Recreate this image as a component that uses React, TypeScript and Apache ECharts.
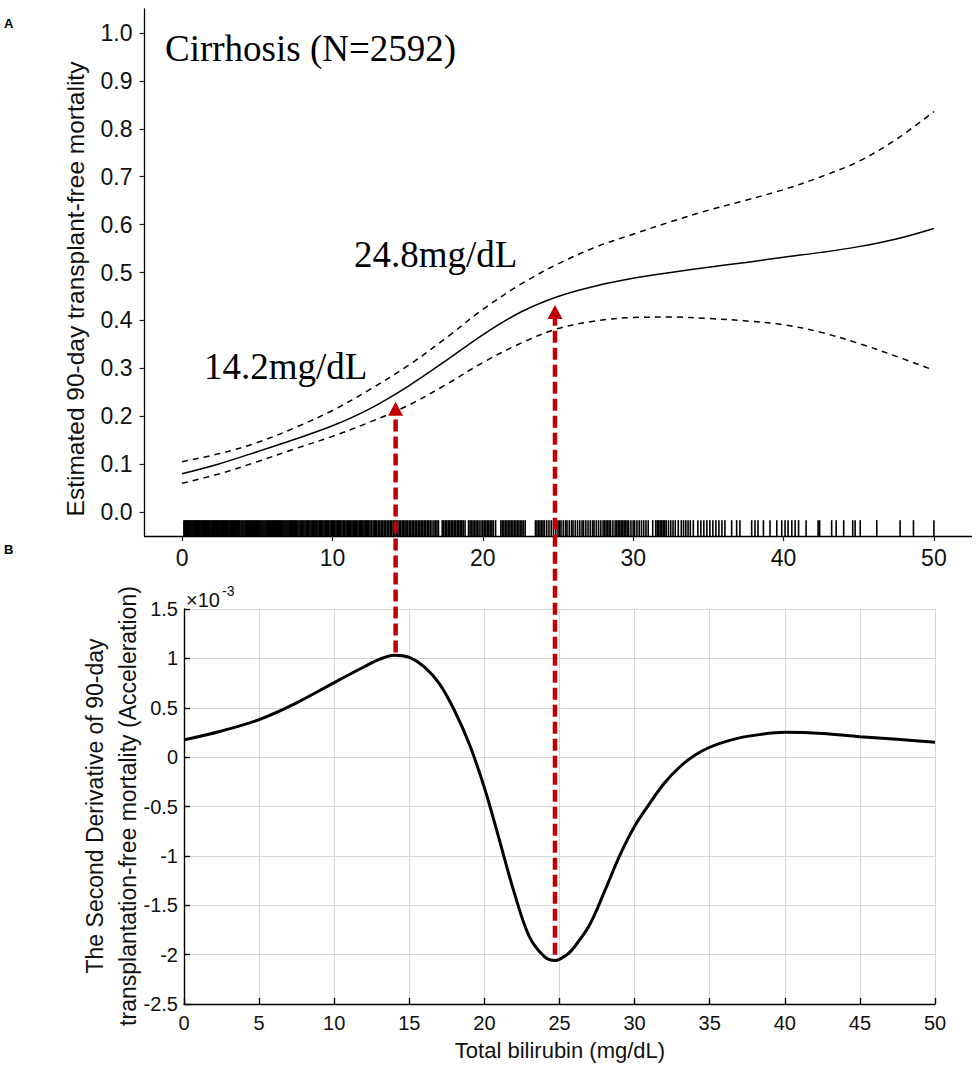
import React, { useEffect, useRef } from "react";
import * as echarts from "echarts";

// ---------- Panel A: estimated 90-day transplant-free mortality ----------
const estX = [0, 2.5, 5, 7.5, 10, 12.5, 15, 17.5, 20, 22.5, 25, 27.5, 30, 32.5, 35, 37.5, 40, 42.5, 45, 47.5, 50];
const estMid = [0.080, 0.101, 0.126, 0.152, 0.180, 0.216, 0.262, 0.315, 0.370, 0.417, 0.450, 0.472, 0.488, 0.500, 0.511, 0.521, 0.532, 0.542, 0.554, 0.570, 0.592];
const estUpper = [0.105, 0.122, 0.145, 0.176, 0.212, 0.256, 0.305, 0.362, 0.423, 0.475, 0.518, 0.553, 0.580, 0.606, 0.630, 0.651, 0.673, 0.700, 0.732, 0.778, 0.836];
const estLower = [0.060, 0.080, 0.105, 0.132, 0.158, 0.188, 0.222, 0.265, 0.312, 0.352, 0.383, 0.399, 0.406, 0.407, 0.404, 0.399, 0.391, 0.375, 0.352, 0.325, 0.296];

const rugBilirubin = [
  0.12, 0.18, 0.24, 0.3, 0.36, 0.42, 0.48, 0.54, 0.6, 0.66, 0.72, 0.78, 0.84, 0.9, 0.96,
  1.02, 1.08, 1.14, 1.2, 1.26, 1.32, 1.38, 1.44, 1.5, 1.56, 1.62, 1.68, 1.74, 1.8, 1.86, 1.92, 1.98,
  2.04, 2.1, 2.16, 2.22, 2.28, 2.34, 2.4, 2.46, 2.52, 2.58, 2.64, 2.7, 2.76, 2.82, 2.88, 2.94,
  3.0, 3.06, 3.12, 3.18, 3.24, 3.3, 3.36, 3.42, 3.48, 3.54, 3.6, 3.66, 3.72, 3.78, 3.84,
  3.92, 3.98, 4.05, 4.12, 4.19, 4.26, 4.33, 4.4, 4.47, 4.54, 4.61, 4.68, 4.75, 4.82, 4.89, 4.96,
  5.03, 5.1, 5.17, 5.24, 5.31, 5.38, 5.45, 5.52, 5.59, 5.66, 5.73, 5.8, 5.87, 5.94, 6.01, 6.08,
  6.14, 6.21, 6.28, 6.35, 6.42, 6.49, 6.56, 6.63, 6.7, 6.77, 6.84, 6.91, 6.98,
  7.05, 7.12, 7.19, 7.26, 7.33, 7.4, 7.47, 7.54, 7.62, 7.7, 7.78, 7.85, 7.94,
  8.02, 8.1, 8.18, 8.26, 8.34, 8.42, 8.5, 8.58, 8.66, 8.74, 8.82, 8.9, 8.96,
  9.04, 9.12, 9.2, 9.28, 9.36, 9.44, 9.52, 9.6, 9.68, 9.76, 9.84, 9.92,
  10.0, 10.08, 10.16, 10.24, 10.32, 10.4, 10.48, 10.56, 10.64, 10.74, 10.82, 10.9, 10.98,
  11.06, 11.14, 11.22, 11.3, 11.38, 11.46, 11.54, 11.62, 11.7, 11.78, 11.86, 11.94,
  12.02, 12.1, 12.18, 12.26, 12.34, 12.42, 12.5, 12.6, 12.7, 12.78, 12.86, 12.94,
  13.04, 13.14, 13.24, 13.34, 13.44, 13.54, 13.64, 13.74, 13.84, 13.94,
  14.04, 14.14, 14.24, 14.34, 14.44, 14.54, 14.64, 14.74, 14.82, 14.9,
  15.0, 15.1, 15.2, 15.3, 15.4, 15.5, 15.6, 15.7, 15.8, 15.9,
  16.0, 16.1, 16.2, 16.3, 16.4, 16.5, 16.62, 16.75, 16.85, 16.95,
  17.05, 17.3, 17.4, 17.5, 17.6, 17.7, 17.8, 17.9, 18.0,
  18.1, 18.2, 18.3, 18.4, 18.5, 18.6, 18.7, 18.82, 19.05,
  19.15, 19.25, 19.35, 19.45, 19.55, 19.65, 19.75, 19.88, 20.0,
  20.1, 20.2, 20.3, 20.4, 20.5, 20.6, 20.7, 20.85, 21.2,
  21.3, 21.4, 21.5, 21.6, 21.7, 21.8, 21.9, 22.0, 22.1,
  22.2, 22.3, 22.4, 22.5, 22.6, 22.7, 22.82, 23.5, 23.6,
  23.7, 23.8, 23.9, 24.0, 24.1, 24.25, 24.4, 24.55, 24.7, 24.85, 25.0,
  25.1, 25.2, 25.35, 25.5, 25.6, 25.75, 25.9, 26.0, 26.15, 26.3, 26.45, 26.6, 26.7, 26.85,
  27.0, 27.15, 27.3, 27.4, 27.55, 27.7, 27.85, 28.0, 28.1, 28.2, 28.3, 28.4, 28.5, 28.65, 28.8, 28.9,
  29.0, 29.1, 29.2, 29.3, 29.4, 29.5, 29.6, 29.7, 29.85, 30.0,
  30.1, 30.25, 30.4, 30.55, 30.7, 30.85, 31.0, 31.3, 31.5, 31.6, 31.7, 31.8, 31.9, 32.0, 32.1, 32.2,
  32.35, 32.5, 32.65, 32.8, 33.0, 33.2, 33.35, 33.5, 33.65, 33.8, 34.0, 34.3, 34.5, 34.7, 34.9,
  35.1, 35.3, 35.5, 35.7, 35.9, 36.1,
  36.55, 36.88, 37.1, 37.88, 38.1, 38.3, 38.66, 39.1, 39.55, 39.88, 40.1, 40.3, 40.55, 40.77, 41.0,
  41.5, 42.3, 42.4, 43.2, 43.5, 44.0, 44.6, 44.76, 45.1, 46.2, 47.75, 48.64, 50.0,
];

const topXTicks = [0, 10, 20, 30, 40, 50];
const topYTicks = [0, 0.1, 0.2, 0.3, 0.4, 0.5, 0.6, 0.7, 0.8, 0.9, 1.0];

// ---------- Panel B: second derivative (x10^-3) ----------
const accelX = [0, 2.5, 5, 7.5, 10, 12, 13, 14, 15, 16, 17, 18, 19, 20, 21, 22, 23, 24, 24.7, 25.5, 26, 27, 28, 29, 30, 31, 32, 33, 34, 35, 36, 37.5, 40, 42.5, 45, 47.5, 50];
const accelY = [0.175, 0.265, 0.38, 0.55, 0.755, 0.915, 0.99, 1.032, 1.01, 0.915, 0.745, 0.475, 0.13, -0.31, -0.84, -1.38, -1.82, -2.02, -2.06, -2.0, -1.92, -1.70, -1.36, -1.0, -0.70, -0.47, -0.26, -0.10, 0.02, 0.10, 0.155, 0.21, 0.251, 0.24, 0.207, 0.18, 0.15];

// ---------- cut points with arrows ----------
const cutPoints = [14.2, 24.8];
const cutLabels = ["14.2mg/dL", "24.8mg/dL"];
const arrowTipMortality = [0.23, 0.432];
const arrowStartAccel = [1.06, -2.0];

const SANS = '"Liberation Sans", Arial, sans-serif';
const SERIF = '"Liberation Serif", "Times New Roman", serif';
const RED = "#C00000";

export default function App() {
  const ref = useRef<HTMLDivElement>(null);

  useEffect(() => {
    if (!ref.current) return;
    const chart = echarts.init(ref.current, null, { renderer: "svg" });

    const option: any = {
      animation: false,
      backgroundColor: "#fff",
      grid: [
        { left: 144.5, top: 9, width: 827, height: 527 },
        { left: 184, top: 609, width: 751, height: 395 },
      ],
      xAxis: [
        {
          type: "value",
          gridIndex: 0,
          min: -2.5,
          max: 52.5,
          axisLine: { show: true, onZero: false, lineStyle: { color: "#000", width: 1.3 } },
          axisTick: { show: true, length: 5, customValues: topXTicks, lineStyle: { color: "#222", width: 1.2 } },
          axisLabel: {
            customValues: topXTicks,
            fontSize: 23,
            fontFamily: SANS,
            color: "#111",
            margin: 10,
          },
          splitLine: { show: false },
        },
        {
          type: "value",
          gridIndex: 1,
          min: 0,
          max: 50,
          interval: 5,
          axisLine: { show: true, onZero: false, lineStyle: { color: "#000", width: 1.4 } },
          axisTick: { show: true, inside: true, length: 6, lineStyle: { color: "#000", width: 1.4 } },
          axisLabel: { fontSize: 20, fontFamily: SANS, color: "#111", margin: 9 },
          splitLine: { show: true, lineStyle: { color: "#d6d6d6", width: 1 } },
        },
      ],
      yAxis: [
        {
          type: "value",
          gridIndex: 0,
          min: -0.05,
          max: 1.05,
          axisLine: { show: true, onZero: false, lineStyle: { color: "#000", width: 1.3 } },
          axisTick: { show: true, length: 5, customValues: topYTicks, lineStyle: { color: "#222", width: 1.2 } },
          axisLabel: {
            customValues: topYTicks,
            formatter: (v: number) => v.toFixed(1),
            fontSize: 23,
            fontFamily: SANS,
            color: "#111",
            margin: 12,
          },
          splitLine: { show: false },
        },
        {
          type: "value",
          gridIndex: 1,
          min: -2.5,
          max: 1.5,
          interval: 0.5,
          axisLine: { show: true, onZero: false, lineStyle: { color: "#000", width: 1.4 } },
          axisTick: { show: true, inside: true, length: 6, lineStyle: { color: "#000", width: 1.4 } },
          axisLabel: {
            formatter: (v: number) => String(Math.round(v * 10) / 10),
            fontSize: 20,
            fontFamily: SANS,
            color: "#111",
            margin: 6,
          },
          splitLine: { show: true, lineStyle: { color: "#d6d6d6", width: 1 } },
        },
      ],
      series: [
        {
          type: "custom",
          xAxisIndex: 0,
          yAxisIndex: 0,
          data: rugBilirubin.map((v) => [v, -0.03]),
          encode: { x: 0, y: 1 },
          renderItem: (params: any, api: any) => {
            const x = api.value(0);
            const a = api.coord([x, -0.017]);
            const b = api.coord([x, -0.05]);
            return {
              type: "line",
              shape: { x1: a[0], y1: a[1], x2: b[0], y2: b[1] },
              style: { stroke: "#000", lineWidth: 1.6 },
            };
          },
          silent: true,
        },
        {
          type: "line",
          xAxisIndex: 0,
          yAxisIndex: 0,
          data: estX.map((x, i) => [x, estUpper[i]]),
          smooth: 0.35,
          showSymbol: false,
          lineStyle: { color: "#000", width: 1.5, type: [6, 5] },
        },
        {
          type: "line",
          xAxisIndex: 0,
          yAxisIndex: 0,
          data: estX.map((x, i) => [x, estLower[i]]),
          smooth: 0.35,
          showSymbol: false,
          lineStyle: { color: "#000", width: 1.5, type: [6, 5] },
        },
        {
          type: "line",
          xAxisIndex: 0,
          yAxisIndex: 0,
          data: estX.map((x, i) => [x, estMid[i]]),
          smooth: 0.35,
          showSymbol: false,
          lineStyle: { color: "#000", width: 1.5 },
        },
        {
          type: "line",
          xAxisIndex: 1,
          yAxisIndex: 1,
          data: accelX.map((x, i) => [x, accelY[i]]),
          smooth: 0.35,
          showSymbol: false,
          lineStyle: { color: "#000", width: 3 },
        },
      ],
    };

    chart.setOption(option);

    const elements: any[] = [
      { type: "text", x: 4, y: 23, style: { text: "A", fontSize: 13, fontWeight: "bold", fontFamily: SANS, fill: "#000", align: "left", verticalAlign: "middle" } },
      { type: "text", x: 4, y: 549, style: { text: "B", fontSize: 13, fontWeight: "bold", fontFamily: SANS, fill: "#000", align: "left", verticalAlign: "middle" } },
      { type: "text", x: 165, y: 48, style: { text: "Cirrhosis (N=2592)", fontSize: 37, fontFamily: SERIF, fill: "#000", align: "left", verticalAlign: "middle" } },
      { type: "text", x: 354, y: 254, style: { text: cutLabels[1], fontSize: 37, fontFamily: SERIF, fill: "#000", align: "left", verticalAlign: "middle" } },
      { type: "text", x: 204, y: 366, style: { text: cutLabels[0], fontSize: 37, fontFamily: SERIF, fill: "#000", align: "left", verticalAlign: "middle" } },
      {
        type: "text",
        x: 75,
        y: 289,
        rotation: Math.PI / 2,
        style: { text: "Estimated 90-day transplant-free mortality", fontSize: 24.5, fontFamily: SANS, fill: "#111", align: "center", verticalAlign: "middle" },
      },
      {
        type: "text",
        x: 111,
        y: 806,
        rotation: Math.PI / 2,
        style: {
          text: "The Second Derivative of 90-day\ntransplantation-free mortality (Acceleration)",
          fontSize: 23,
          lineHeight: 33,
          fontFamily: SANS,
          fill: "#111",
          align: "center",
          verticalAlign: "middle",
        },
      },
      { type: "text", x: 560, y: 1050, style: { text: "Total bilirubin (mg/dL)", fontSize: 22, fontFamily: SANS, fill: "#111", align: "center", verticalAlign: "middle" } },
      { type: "text", x: 186, y: 600, style: { text: "×10", fontSize: 20, fontFamily: SANS, fill: "#111", align: "left", verticalAlign: "middle" } },
      { type: "text", x: 222, y: 591, style: { text: "-3", fontSize: 14, fontFamily: SANS, fill: "#111", align: "left", verticalAlign: "middle" } },
    ];

    cutPoints.forEach((cx, i) => {
      const tip = chart.convertToPixel({ gridIndex: 0 }, [cx, arrowTipMortality[i]]) as number[];
      const start = chart.convertToPixel({ gridIndex: 1 }, [cx, arrowStartAccel[i]]) as number[];
      const x = tip[0];
      const headH = 14;
      const headW = 7.5;
      elements.push({
        type: "line",
        z: 100,
        shape: { x1: x, y1: start[1], x2: x, y2: tip[1] + headH - 1 },
        style: { stroke: RED, lineWidth: 4.5, lineDash: [12, 5] },
      });
      elements.push({
        type: "polygon",
        z: 100,
        shape: { points: [[x, tip[1]], [x - headW, tip[1] + headH], [x + headW, tip[1] + headH]] },
        style: { fill: RED },
      });
    });

    chart.setOption({ graphic: { elements } });

    return () => chart.dispose();
  }, []);

  return (
    <div
      ref={ref}
      style={{ position: "absolute", left: 0, top: 0, width: 976, height: 1069, background: "#fff" }}
    />
  );
}
